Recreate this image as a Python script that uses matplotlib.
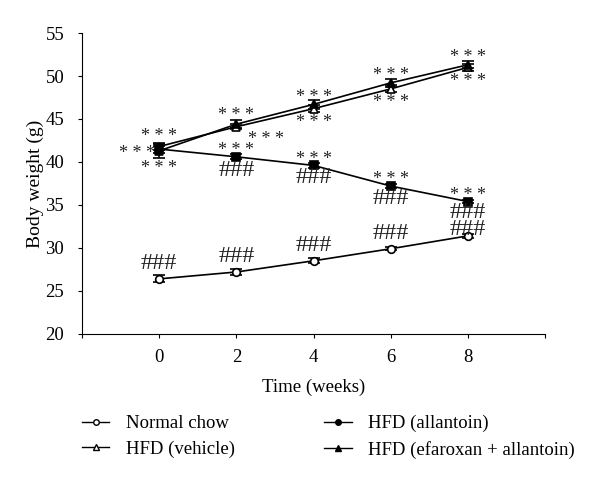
import matplotlib as mpl
mpl.use('Agg')
import matplotlib.pyplot as plt
from matplotlib.lines import Line2D

plt.rcParams['font.family'] = ['Liberation Serif', 'DejaVu Serif']

weeks = [0, 2, 4, 6, 8]
normal_chow = [26.4, 27.2, 28.5, 29.9, 31.4]
normal_err = [0.4, 0.3, 0.3, 0.2, 0.2]
hfd_vehicle = [41.8, 44.1, 46.2, 48.5, 51.0]
vehicle_err = [0.4, 0.3, 0.4, 0.4, 0.4]
hfd_allantoin = [41.5, 40.6, 39.6, 37.2, 35.4]
allantoin_err = [0.4, 0.3, 0.3, 0.2, 0.2]
hfd_efaroxan = [41.3, 44.4, 46.7, 49.2, 51.3]
efaroxan_err = [0.8, 0.5, 0.5, 0.5, 0.4]

fig = plt.figure(figsize=(6, 4.79), dpi=100)
ax = fig.add_axes([0.137, 0.303, 0.771, 0.628])

series = [
  (normal_chow, normal_err, 'o', 'white', 'Normal chow'),
  (hfd_vehicle, vehicle_err, '^', 'white', 'HFD (vehicle)'),
  (hfd_allantoin, allantoin_err, 's', 'black', 'HFD (allantoin)'),
  (hfd_efaroxan, efaroxan_err, '^', 'black', 'HFD (efaroxan + allantoin)'),
]
for vals, err, mk, fc, lab in series:
  ax.errorbar(weeks, vals, yerr=err, color='black', lw=1.2, marker=mk, ms=5.5,
              mfc=fc, mec='black', mew=1.2, capsize=4, capthick=1.2, elinewidth=1.2)

def note(x, y, s, dx=0, dy=0):
  size = 13 if '*' in s else 17.5
  ax.annotate(s, (x, y), xytext=(dx, dy), textcoords='offset points',
              ha='center', va='center', fontsize=size, color='#222222',
              linespacing=0.72)

stars = '* * *'
hashes = '###'
# week 0
note(0, hfd_vehicle[0], stars, 0, 7)
note(0, hfd_efaroxan[0], stars, -16, -2)
note(0, hfd_efaroxan[0], stars, 0, -13)
note(0, normal_chow[0], hashes, 0, 11)
# week 2
note(2, hfd_efaroxan[1], stars, 0, 6)
note(2, hfd_vehicle[1], stars, 21, -9)
note(2, hfd_allantoin[1], stars, 0, 4.5)
note(2, hfd_allantoin[1], hashes, 0, -10)
note(2, normal_chow[1], hashes, 0, 11)
# weeks 4-8
for i in [2, 3, 4]:
  note(weeks[i], hfd_efaroxan[i], stars, 0, 5)
  note(weeks[i], hfd_vehicle[i], stars, 0, -10)
  note(weeks[i], hfd_allantoin[i], stars, 0, 4.5)
for i in [2, 3]:
  note(weeks[i], hfd_allantoin[i], hashes, 0, -9)
  note(weeks[i], normal_chow[i], hashes, 0, 11)
note(8, hfd_allantoin[4], hashes + '\n' + hashes, 0, -14)

ax.set_xlim(-2, 10)
ax.set_ylim(20, 55)
ax.set_xticks([-2] + weeks + [10])
ax.set_xticklabels([''] + [str(w) for w in weeks] + [''])
ax.set_yticks(range(20, 56, 5))
ax.spines['top'].set_visible(False)
ax.spines['right'].set_visible(False)
ax.tick_params(labelsize=13.5, length=3, pad=8, direction='out')
ax.tick_params(axis='y', pad=10)
ax.set_xlabel('Time (weeks)', fontsize=13.5, labelpad=9)
ax.set_ylabel('Body weight (g)', fontsize=14, labelpad=1)

handles = [
  Line2D([], [], color='black', lw=1, marker='o', ms=4, mfc='white', mec='black'),
  Line2D([], [], color='black', lw=1, marker='^', ms=4, mfc='white', mec='black'),
  Line2D([], [], color='black', lw=1, marker='o', ms=4, mfc='black', mec='black'),
  Line2D([], [], color='black', lw=1, marker='^', ms=4, mfc='black', mec='black'),
]
labels = [s[4] for s in series]
fig.legend(handles, labels, loc='upper left', bbox_to_anchor=(0.137, 0.134), ncol=2,
           frameon=False, fontsize=13.5, handlelength=1.45, handletextpad=0.9,
           columnspacing=4.75, labelspacing=0.45, borderaxespad=0, borderpad=0)

fig.savefig('out.png', dpi=100)
